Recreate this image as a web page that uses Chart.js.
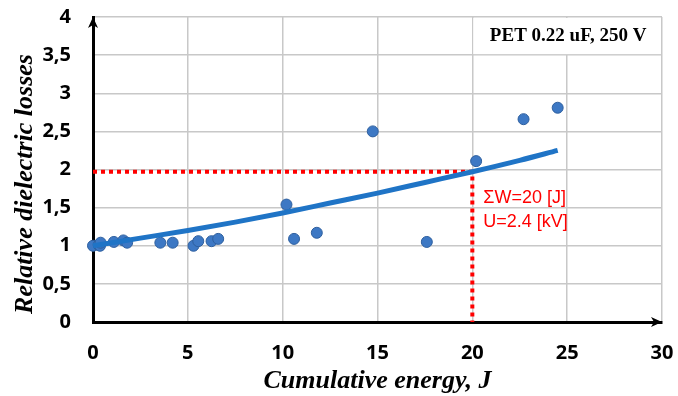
<!DOCTYPE html>
<html>
<head>
<meta charset="utf-8">
<script src="https://cdn.jsdelivr.net/npm/chart.js@4"></script>
<style>
  html, body { margin: 0; padding: 0; background: #fff; }
  canvas { display: block; }
</style>
</head>
<body>
<canvas id="lossChart" width="678" height="396"></canvas>
<script>
// measured points
const energyPts = [0, 0.3, 0.37, 0.4, 1.1, 1.6, 1.8, 3.55, 4.2, 5.3, 5.55, 6.25, 6.6, 10.2, 10.6, 11.8, 14.75, 17.6, 20.2, 22.7, 24.5];
const lossPts = [1.0, 1.01, 1.0, 1.04, 1.05, 1.07, 1.04, 1.04, 1.04, 1.0, 1.06, 1.06, 1.09, 1.54, 1.09, 1.17, 2.5, 1.05, 2.11, 2.66, 2.81];

// trend curve, read at a few x positions
const trendX = [0, 2.5, 5, 7.5, 10, 12.5, 15, 17.5, 20, 22.5, 24.5];
const trendY = [1.0, 1.10, 1.20, 1.31, 1.43, 1.56, 1.69, 1.83, 1.97, 2.12, 2.25];

// red marker at the 20 J point
const markX = 20;
const markY = 1.97;

const boxLabel = "PET 0.22 uF, 250 V";
const noteLines = ["ΣW=20 [J]", "U=2.4 [kV]"];

const xTitle = "Cumulative energy, J";
const yTitle = "Relative dielectric losses";

const RED = "#ff0000";
const BLUE = "#1f74c6";
const SERIF = "'Liberation Serif', 'Times New Roman', serif";

// white label box in top right cell + red note text + y title + axis arrows
const extrasPlugin = {
  id: "extras",
  beforeDatasetsDraw(chart) {
    const { ctx, scales: { x, y } } = chart;
    const x1 = x.getPixelForValue(20), x2 = x.getPixelForValue(30);
    const y1 = y.getPixelForValue(4), y2 = y.getPixelForValue(3.5);
    ctx.save();
    ctx.fillStyle = "#fff";
    ctx.fillRect(x1 + 1, y1 + 1, x2 - x1 - 2, y2 - y1 - 2);
    ctx.fillStyle = "#000";
    ctx.font = "bold 19px " + SERIF;
    ctx.textAlign = "center";
    ctx.textBaseline = "middle";
    ctx.fillText(boxLabel, (x1 + x2) / 2 + 1, (y1 + y2) / 2);
    ctx.restore();
  },
  afterDraw(chart) {
    const { ctx, chartArea: a, scales: { x } } = chart;
    ctx.save();
    // note text
    ctx.fillStyle = RED;
    ctx.font = "18px 'Liberation Sans', Arial, sans-serif";
    ctx.textAlign = "left";
    ctx.textBaseline = "middle";
    const tx = x.getPixelForValue(markX) + 11;
    ctx.fillText(noteLines[0], tx, 198);
    ctx.fillText(noteLines[1], tx, 222);

    // y title (sits a bit below the plot centre in the original)
    ctx.fillStyle = "#000";
    ctx.font = "italic bold 26px " + SERIF;
    ctx.textAlign = "center";
    ctx.translate(25, 184);
    ctx.rotate(-Math.PI / 2);
    ctx.fillText(yTitle, 0, 0);
    ctx.setTransform(1, 0, 0, 1, 0, 0);

    // arrows
    ctx.beginPath();
    ctx.moveTo(a.left, a.top);
    ctx.lineTo(a.left - 5, a.top + 11);
    ctx.lineTo(a.left, a.top + 8);
    ctx.lineTo(a.left + 5, a.top + 11);
    ctx.closePath();
    ctx.fill();

    ctx.beginPath();
    ctx.moveTo(a.right, a.bottom);
    ctx.lineTo(a.right - 11, a.bottom - 5);
    ctx.lineTo(a.right - 8, a.bottom);
    ctx.lineTo(a.right - 11, a.bottom + 5);
    ctx.closePath();
    ctx.fill();
    ctx.restore();
  }
};

document.addEventListener("DOMContentLoaded", function () {
  if (typeof Chart === "undefined") {
    console.error("Chart.js not loaded");
    return;
  }

  const scatterData = energyPts.map((e, i) => ({ x: e, y: lossPts[i] }));
  const trendData = trendX.map((e, i) => ({ x: e, y: trendY[i] }));
  const markData = [{ x: 0, y: markY }, { x: markX, y: markY }, { x: markX, y: 0 }];

  const tickFont = { family: "'Open Sans', 'Liberation Sans', sans-serif", size: 20, weight: "bold" };
  const titleFont = { family: SERIF, size: 26, weight: "bold", style: "italic" };

  new Chart(document.getElementById("lossChart").getContext("2d"), {
    type: "scatter",
    data: {
      datasets: [
        {
          label: "marker",
          type: "line",
          data: markData,
          borderColor: RED,
          borderWidth: 4,
          borderDash: [4, 4],
          pointRadius: 0,
          fill: false,
          tension: 0,
          order: 3,
        },
        {
          label: "measured",
          data: scatterData,
          backgroundColor: "#3d78c4",
          borderColor: "#2e5f9e",
          borderWidth: 1,
          pointRadius: 5.5,
          clip: false,
          order: 2,
        },
        {
          label: "trend",
          type: "line",
          data: trendData,
          borderColor: BLUE,
          borderWidth: 5,
          pointRadius: 0,
          fill: false,
          tension: 0.4,
          cubicInterpolationMode: "monotone",
          clip: false,
          order: 1,
        },
      ],
    },
    options: {
      responsive: false,
      animation: false,
      layout: { padding: { top: 17, right: 16, left: 0, bottom: 0 } },
      plugins: {
        legend: { display: false },
        tooltip: { enabled: false },
      },
      scales: {
        x: {
          type: "linear",
          min: 0,
          max: 30,
          ticks: { stepSize: 5, color: "#000", font: tickFont, padding: 2 },
          grid: { color: "#c8c8c8", lineWidth: 1.5, drawTicks: true, tickLength: 17, tickColor: "rgba(0,0,0,0)" },
          border: { color: "#000", width: 3 },
          title: { display: true, text: xTitle, color: "#000", font: titleFont, padding: { top: 0, bottom: -1 } },
          afterFit(scale) { scale.height = 74; },
        },
        y: {
          min: 0,
          max: 4,
          ticks: {
            stepSize: 0.5,
            color: "#000",
            font: tickFont,
            padding: 3,
            callback: (v) => String(v).replace(".", ","),
          },
          grid: { color: "#c8c8c8", lineWidth: 1.5, drawTicks: true, tickLength: 19, tickColor: "rgba(0,0,0,0)" },
          border: { color: "#000", width: 3 },
          title: { display: false },
          afterFit(scale) { scale.width = 93; },
        },
      },
    },
    plugins: [extrasPlugin],
  });
});
</script>
</body>
</html>
